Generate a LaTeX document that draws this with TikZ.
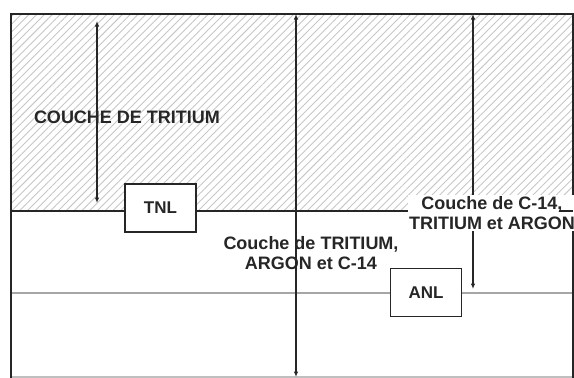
\documentclass[tikz,border=0pt]{standalone}
\usepackage{fontspec}
\setmainfont{Liberation Sans}
\usetikzlibrary{patterns.meta,arrows.meta}
\begin{document}
\begin{tikzpicture}[x=1pt,y=-1pt,
  frame/.style={line width=2pt, black!85},
  dimarrow/.style={line width=1.4pt, black!85, {Latex[length=5.5pt,width=4.5pt]}-{Latex[length=5.5pt,width=4.5pt]}},
  lbl/.style={font=\fontsize{18}{20}\selectfont\bfseries, align=center, text=black!85, inner sep=1pt},
  labbox/.style={draw=black!85, line width=1.6pt, fill=white, minimum width=71pt, minimum height=48pt, inner sep=0pt, font=\fontsize{17}{20}\selectfont\bfseries, text=black!85}
]
\useasboundingbox (0,0) rectangle (574,378);
\fill[white] (0,0) rectangle (574,378);
% hatched tritium layer
\pattern[pattern={Lines[angle=45,distance=5.5pt,line width=0.9pt]}, pattern color=black!22] (11,14) rectangle (573,211);
% coordinates
\coordinate (tl) at (11,14);
\coordinate (tr) at (573,14);
\coordinate (bl) at (11,378);
\coordinate (br) at (573,378);
\coordinate (ml) at (11,211);
\coordinate (mr) at (573,211);
\coordinate (mr2) at (559,211);
\coordinate (gl) at (11,293);
\coordinate (gr) at (573,293);
\coordinate (a1t) at (97,21);
\coordinate (a1b) at (97,203);
\coordinate (a2t) at (296,14);
\coordinate (a2b) at (296,377);
\coordinate (a3t) at (473,14);
\coordinate (a3b) at (473,289);
% lines
\draw[line width=1.5pt, black!35] (gl) -- (gr);
\draw[line width=1.2pt, black!25] (11,377) -- (573,377);
\draw[frame] (ml) -- (mr);
\draw[frame] (bl) -- (tl) -- (tr) -- (br);
% arrows
\draw[dimarrow] (a1t) -- (a1b);
\draw[dimarrow] (a2t) -- (a2b);
\draw[dimarrow] (a3t) -- (a3b);
% labels
\node[lbl] (ltrit) at (127,117) {COUCHE DE TRITIUM};
\node[lbl] (lmid) at (311,253) {Couche de TRITIUM,\\ARGON et C-14};
\node[lbl, fill=white] (lright) at (492,213) {Couche de C-14,\\TRITIUM et ARGON};
\draw[frame] (mr2) -- (mr);
% boxes
\node[labbox] (TNL) at (160.5,208) {TNL};
\node[labbox] (ANL) at (426,292.5) {ANL};
\end{tikzpicture}
\end{document}
